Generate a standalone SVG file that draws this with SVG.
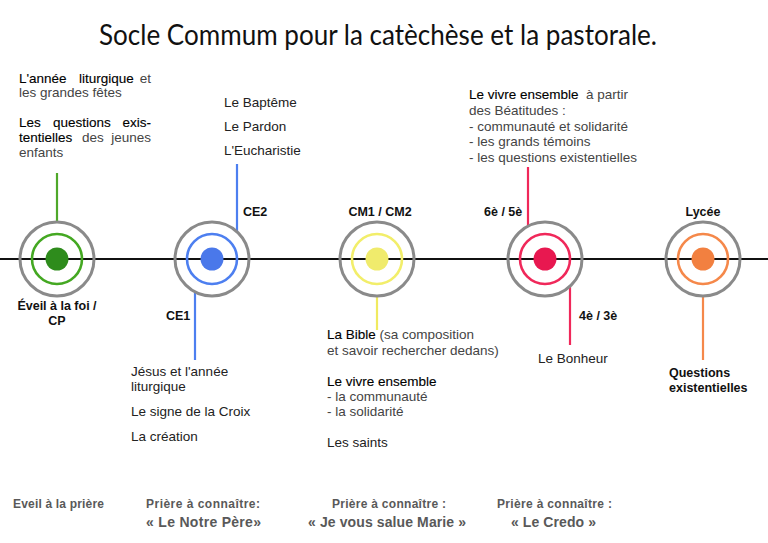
<svg xmlns="http://www.w3.org/2000/svg" width="768" height="543" viewBox="0 0 768 543">
<style>
  text { font-family: "Liberation Sans", Arial, sans-serif; }
  .title { font-family: Lato, "Liberation Sans", sans-serif; font-size: 29px; fill: #111; }
  .t { font-size: 13.5px; fill: #222; }
  .lt { fill: #444; }
  .em { fill: #000; stroke: #000; stroke-width: 0.12; }
  .lab { font-size: 12.5px; font-weight: bold; fill: #111; }
  .outer { fill: none; stroke: #8a8a8a; stroke-width: 3; }
  .ring { fill: none; stroke-width: 2.6; }
  .bot { font-weight: bold; fill: #595959; }
  .b1 { font-size: 12px; }
  .b2 { font-size: 14px; }
</style>
<rect width="768" height="543" fill="#fff"/>
<text class="title" x="99" y="45" textLength="558" lengthAdjust="spacingAndGlyphs">Socle Commum pour la catèchèse et la pastorale.</text>

<g id="connectors">
  <line x1="0" y1="259" x2="768" y2="259" stroke="#111" stroke-width="2"/>
  <line x1="57" y1="173" x2="57" y2="222" stroke="#4fa82a" stroke-width="2.2"/>
  <line x1="237" y1="164" x2="237" y2="232" stroke="#4d7ff0" stroke-width="2.2"/>
  <line x1="195" y1="293" x2="195" y2="360" stroke="#4d7ff0" stroke-width="2.2"/>
  <line x1="377" y1="296" x2="377" y2="330" stroke="#f0ea60" stroke-width="2.2"/>
  <line x1="528" y1="167" x2="528" y2="226" stroke="#f0285a" stroke-width="2.2"/>
  <line x1="570" y1="287" x2="570" y2="345" stroke="#f0285a" stroke-width="2.2"/>
  <line x1="703" y1="296" x2="703" y2="360" stroke="#f5884a" stroke-width="2.2"/>
</g>

<g id="node-eveil">
  <circle class="outer" cx="57" cy="259" r="37"/>
  <circle class="ring" cx="57" cy="259" r="25" stroke="#44a822"/>
  <circle cx="57" cy="259" r="11.5" fill="#2e8c1c"/>
  <text class="lab" x="57" y="310" text-anchor="middle">Éveil à la foi /</text>
  <text class="lab" x="57" y="325" text-anchor="middle">CP</text>
  <text class="t"><tspan class="em" x="19" y="83">L'année</tspan><tspan class="em" x="79" y="83">liturgique</tspan><tspan class="lt" x="151" y="83" text-anchor="end">et</tspan></text>
  <text class="t lt" x="19" y="97">les grandes fêtes</text>
  <text class="t"><tspan class="em" x="19" y="127">Les</tspan><tspan class="em" x="53" y="127">questions</tspan><tspan class="em" x="151" y="127" text-anchor="end">exis-</tspan></text>
  <text class="t"><tspan class="em" x="19" y="142">tentielles</tspan><tspan class="lt" x="82" y="142">des</tspan><tspan class="lt" x="151" y="142" text-anchor="end">jeunes</tspan></text>
  <text class="t lt" x="19" y="157">enfants</text>
</g>

<g id="node-ce">
  <circle class="outer" cx="212" cy="259" r="37"/>
  <circle class="ring" cx="212" cy="259" r="25" stroke="#4d7ff0"/>
  <circle cx="212" cy="259" r="11.5" fill="#4a78ea"/>
  <text class="lab" x="243" y="216">CE2</text>
  <text class="lab" x="166" y="320">CE1</text>
  <text class="t" x="224" y="107">Le Baptême</text>
  <text class="t" x="224" y="131">Le Pardon</text>
  <text class="t" x="224" y="155">L'Eucharistie</text>
  <text class="t" x="131" y="376">Jésus et l'année</text>
  <text class="t" x="131" y="391">liturgique</text>
  <text class="t" x="131" y="416">Le signe de la Croix</text>
  <text class="t" x="131" y="441">La création</text>
</g>

<g id="node-cm">
  <circle class="outer" cx="377" cy="259" r="37"/>
  <circle class="ring" cx="377" cy="259" r="25" stroke="#f2ee6a"/>
  <circle cx="377" cy="259" r="11.5" fill="#f0eb6c"/>
  <text class="lab" x="380" y="216" text-anchor="middle">CM1 / CM2</text>
  <text class="t" x="327" y="339"><tspan class="em">La Bible</tspan><tspan class="lt"> (sa composition</tspan></text>
  <text class="t lt" x="327" y="355">et savoir rechercher dedans)</text>
  <text class="t em" x="327" y="386">Le vivre ensemble</text>
  <text class="t lt" x="327" y="401">- la communauté</text>
  <text class="t lt" x="327" y="416">- la solidarité</text>
  <text class="t" x="327" y="447">Les saints</text>
</g>

<g id="node-college">
  <circle class="outer" cx="545" cy="259" r="37"/>
  <circle class="ring" cx="545" cy="259" r="25" stroke="#f0285a"/>
  <circle cx="545" cy="259" r="11.5" fill="#e81850"/>
  <text class="lab" x="484" y="216">6è / 5è</text>
  <text class="lab" x="579" y="320">4è / 3è</text>
  <text class="t" x="469" y="99"><tspan class="em">Le vivre ensemble</tspan><tspan class="lt" xml:space="preserve">  à partir</tspan></text>
  <text class="t lt" x="469" y="115">des Béatitudes :</text>
  <text class="t lt" x="469" y="131">- communauté et solidarité</text>
  <text class="t lt" x="469" y="146">- les grands témoins</text>
  <text class="t lt" x="469" y="162">- les questions existentielles</text>
  <text class="t" x="538" y="363">Le Bonheur</text>
</g>

<g id="node-lycee">
  <circle class="outer" cx="703" cy="259" r="37"/>
  <circle class="ring" cx="703" cy="259" r="25" stroke="#f5884a"/>
  <circle cx="703" cy="259" r="11.5" fill="#f28040"/>
  <text class="lab" x="703" y="216" text-anchor="middle">Lycée</text>
  <text class="lab" x="669" y="377">Questions</text>
  <text class="lab" x="669" y="392">existentielles</text>
</g>

<g id="prieres">
  <text class="bot b1" x="13" y="508" textLength="91">Eveil à la prière</text>
  <text class="bot b1" x="146" y="508" textLength="114">Prière à connaître:</text>
  <text class="bot b2" x="146" y="527" textLength="115">« Le Notre Père»</text>
  <text class="bot b1" x="332" y="508" textLength="114">Prière à connaître :</text>
  <text class="bot b2" x="308" y="527" textLength="158">« Je vous salue Marie »</text>
  <text class="bot b1" x="497" y="508" textLength="115">Prière à connaître :</text>
  <text class="bot b2" x="511" y="527" textLength="85">« Le Credo »</text>
</g>
</svg>
